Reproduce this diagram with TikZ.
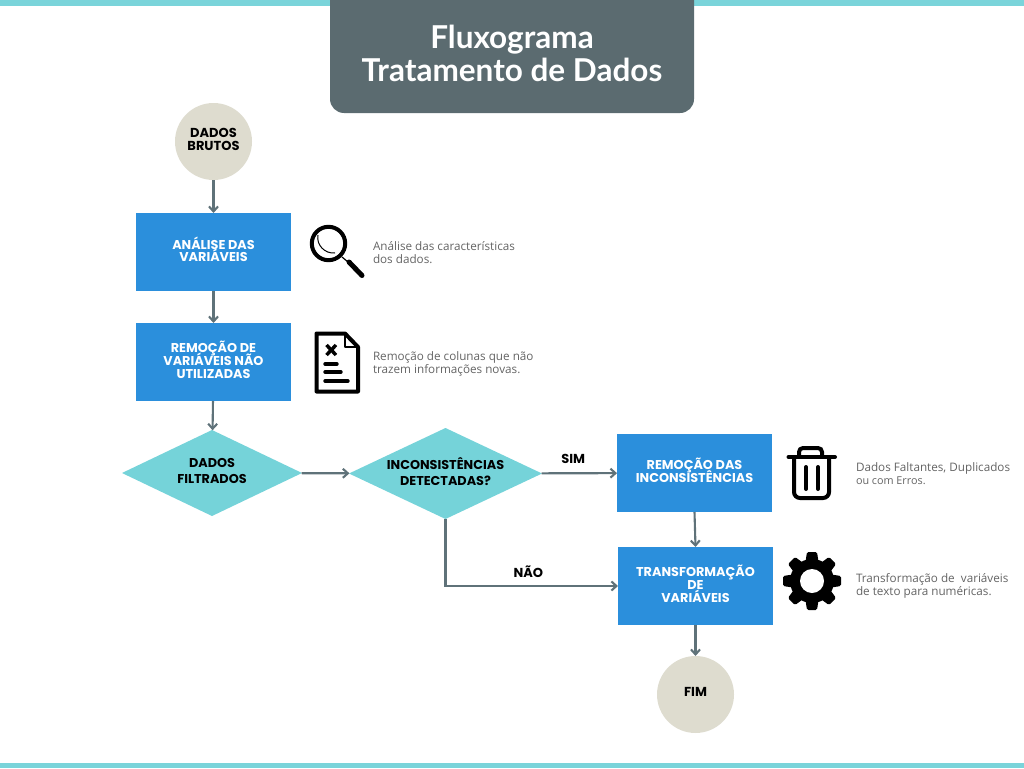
\documentclass[tikz,border=0pt]{standalone}
\usepackage{fontspec}
\setmainfont{Poppins}
\newfontfamily\descfont{Open Sans}
\newfontfamily\titlefont{Lato}
\usetikzlibrary{positioning, arrows.meta, shapes.geometric}
\lineskiplimit=-20pt
\definecolor{barcolor}{RGB}{122, 212, 218}
\definecolor{titlecolor}{RGB}{91, 107, 112}
\definecolor{startcolor}{RGB}{222, 220, 207}
\definecolor{boxcolor}{RGB}{43, 143, 220}
\definecolor{decisioncolor}{RGB}{117, 211, 217}
\definecolor{arrowcolor}{RGB}{95, 114, 121}
\definecolor{desccolor}{RGB}{100, 100, 100}

\begin{document}
\begin{tikzpicture}[
    x=1pt, y=-1pt,
    every node/.style={inner sep=0pt, outer sep=0pt},
    terminal/.style={circle, fill=startcolor, minimum size=77pt, align=center, text depth=4pt, font=\fontsize{13}{13}\selectfont\bfseries},
    box/.style={rectangle, fill=boxcolor, text=white, minimum width=155pt, minimum height=78pt, align=center, text depth=5.5pt, font=\fontsize{12.8}{13}\selectfont\bfseries},
    decision/.style={diamond, fill=decisioncolor, align=center, aspect=2.1, text depth=4pt, font=\fontsize{12.8}{16}\selectfont\bfseries},
    desc/.style={anchor=west, align=left, text=desccolor, font=\descfont\fontsize{11.7}{13}\selectfont},
    answer/.style={font=\fontsize{13}{14}\selectfont\bfseries},
    arrow/.style={-{Straight Barb[length=5pt, width=9pt]}, line width=2.1pt, draw=arrowcolor},
    icon/.style={line width=4pt, draw=black},
]
\useasboundingbox (0,0) rectangle (1024,768);

% ============ Faixas e titulo ============
\fill[barcolor] (0,0) rectangle (1024,6);
\fill[barcolor] (0,763) rectangle (1024,768);
\fill[titlecolor, rounded corners=14pt] (330,-30) rectangle (694,113);
\node[text=white, align=center, font=\titlefont\fontsize{31.5}{33}\selectfont\bfseries] (title) at (512,53) {Fluxograma\\Tratamento de Dados};

% ============ Coluna esquerda ============
\node[terminal] (raw) at (213.5,141.5) {DADOS\\BRUTOS};
\node[box, below=33pt of raw] (analysis) {ANÁLISE DAS\\VARIÁVEIS};
\node[box, below=32pt of analysis] (removal) {REMOÇÃO DE\\VARIÁVEIS NÃO\\UTILIZADAS};
\node[decision, minimum width=180pt, minimum height=86pt] (filtered) at (212,473) {DADOS\\FILTRADOS};

% ============ Decisao ============
\node[decision, minimum width=193pt, minimum height=91pt] (check) at (445.5,473.5) {INCONSISTÊNCIAS\\DETECTADAS?};

% ============ Coluna direita ============
\node[box] (clean) at (694.5,473) {REMOÇÃO DAS\\INCONSISTÊNCIAS};
\node[box] (transform) at (695.5,586) {TRANSFORMAÇÃO\\DE\\VARIÁVEIS};
\node[terminal, text depth=6pt, below=31pt of transform] (end) {FIM};

% ============ Descricoes ============
\node[desc] (desc_analysis) at (373,253) {Análise das características\\dos dados.};
\node[desc] (desc_removal) at (373,364) {Remoção de colunas que não\\trazem informações novas.};
\node[desc] (desc_clean) at (856,474) {Dados Faltantes, Duplicados\\{\fontsize{10.8}{13}\selectfont ou com Erros.}};
\node[desc] (desc_transform) at (856,586) {Transformação de\ \ variáveis\\de texto para numéricas.};

% ============ Setas ============
\draw[arrow] (raw) -- (analysis);
\draw[arrow] (analysis) -- (removal);
\draw[arrow] (removal) -- (filtered);
\draw[arrow] (filtered) -- (check);
\draw[arrow] (check) -- (clean) node[answer, pos=0.42, above=10pt] (yes) {SIM};
\draw[arrow] (check.south) |- (transform.west) node[answer, pos=0.74, above=8pt] (no) {NÃO};
\draw[arrow] (clean.south) -- (transform.north);
\draw[arrow] (transform) -- (end);

% ============ Icones ============
% lupa
\draw[icon] (328.5,243.5) circle (16.7);
\draw[line width=1pt] (318,235) .. controls (316,245) and (325,254) .. (335,253);
\draw[line width=1.2pt] (342,257) -- (348,262);
\draw[line width=5pt, line cap=round] (349,262) -- (362,275.5);
% documento
\draw[icon, line join=round] (316.5,333.5) -- (345,333.5) -- (358,347) -- (358,391.5) -- (316.5,391.5) -- cycle;
\draw[line width=2pt, line join=round] (345,333.5) -- (345,347) -- (358,347);
\draw[line width=3.4pt] (326.5,345) -- (336,355) (336,345) -- (326.5,355);
\draw[line width=3.4pt, line cap=round] (325,364) -- (337,364) (325,372) -- (341,372) (325,381) -- (348,381);
% lixeira
\draw[icon, line cap=round] (788.5,457) -- (835,457);
\draw[icon, rounded corners=4pt] (799,457) -- (799,448) -- (822,448) -- (822,457);
\draw[icon, rounded corners=6pt] (794,457) -- (794,498) -- (829,498) -- (829,457);
\draw[line width=4pt, line cap=round] (806,467) -- (806,489) (818,467) -- (818,489);
% engrenagem
\fill[black] (812,581) circle (22);
\foreach \angle in {0,45,...,315} {
    \fill[black, rotate around={\angle:(812,581)}, rounded corners=1.5pt] (807,552) -- (817,552) -- (819,565) -- (805,565) -- cycle;
}
\fill[white] (812,581) circle (12);

\end{tikzpicture}
\end{document}
